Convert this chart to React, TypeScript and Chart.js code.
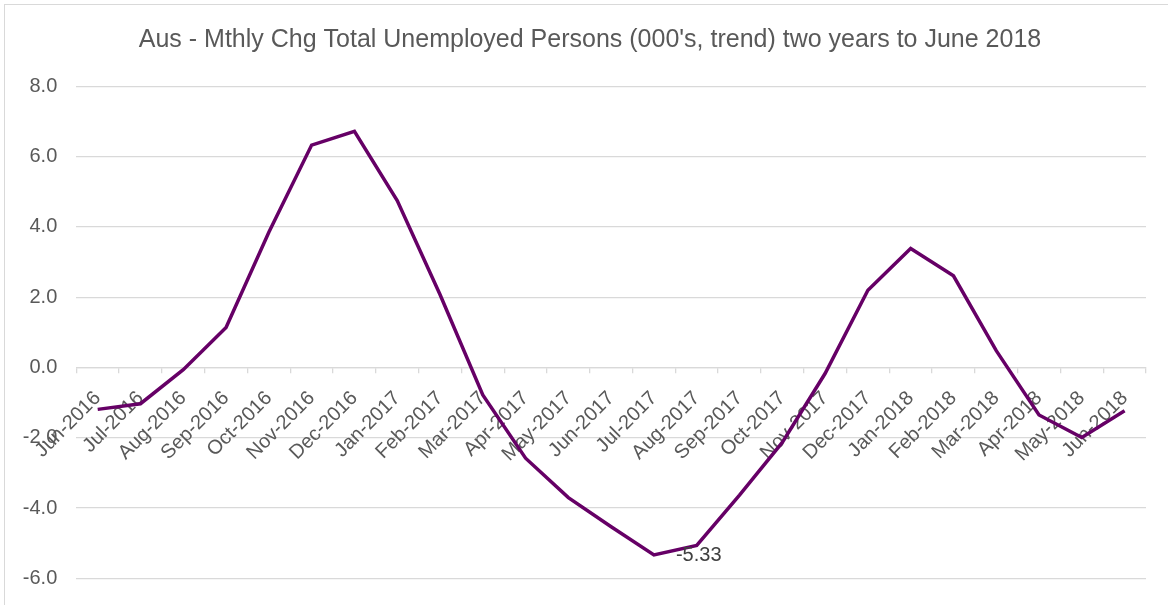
import React, { useEffect, useRef } from "react";
import { Chart, registerables } from "chart.js";

Chart.register(...registerables);

const titleText =
  "Aus - Mthly Chg Total Unemployed Persons (000's, trend) two years to June 2018";

const categories = [
  "Jun-2016", "Jul-2016", "Aug-2016", "Sep-2016", "Oct-2016", "Nov-2016",
  "Dec-2016", "Jan-2017", "Feb-2017", "Mar-2017", "Apr-2017", "May-2017",
  "Jun-2017", "Jul-2017", "Aug-2017", "Sep-2017", "Oct-2017", "Nov-2017",
  "Dec-2017", "Jan-2018", "Feb-2018", "Mar-2018", "Apr-2018", "May-2018",
  "Jun-2018",
];

const unemployedChange = [
  -1.19, -1.03, -0.06, 1.14, 3.85, 6.33,
  6.72, 4.75, 2.08, -0.78, -2.58, -3.7,
  -4.53, -5.33, -5.06, -3.63, -2.13, -0.17,
  2.2, 3.39, 2.61, 0.48, -1.35, -1.99,
  -1.23,
];

const yMin = -6;
const yMax = 8;
const yStep = 2;

// index of the point carrying a data label (the minimum)
const labelledPoints = [13];

const FONT = "'Liberation Sans', Arial, sans-serif";
const GRID = "#d9d9d9";
const TEXT = "#595959";

const titlePlugin = {
  id: "customTitle",
  afterDraw(chart: any) {
    const ctx = chart.ctx;
    ctx.save();
    ctx.font = `25px ${FONT}`;
    ctx.fillStyle = TEXT;
    ctx.textAlign = "center";
    ctx.textBaseline = "middle";
    ctx.fillText(titleText, 590, 40);
    ctx.restore();
  },
};

const dataLabelPlugin = {
  id: "dataLabelPlugin",
  afterDatasetsDraw(chart: any) {
    const meta = chart.getDatasetMeta(0);
    const ctx = chart.ctx;
    ctx.save();
    ctx.font = `20px ${FONT}`;
    ctx.fillStyle = "#404040";
    ctx.textAlign = "left";
    ctx.textBaseline = "middle";
    labelledPoints.forEach((i) => {
      const pt = meta.data[i];
      const v = chart.data.datasets[0].data[i] as number;
      ctx.fillText(v.toFixed(2), pt.x + 22, pt.y + 1);
    });
    ctx.restore();
  },
};

export default function App() {
  const canvasRef = useRef<HTMLCanvasElement | null>(null);

  useEffect(() => {
    if (!canvasRef.current) return;
    Chart.defaults.font.family = FONT;
    const chart = new Chart(canvasRef.current, {
      type: "line",
      data: {
        labels: categories,
        datasets: [
          {
            data: unemployedChange,
            borderColor: "#660066",
            backgroundColor: "#660066",
            borderWidth: 3.5,
            pointRadius: 0,
            tension: 0,
            fill: false,
          },
        ],
      },
      options: {
        animation: false,
        responsive: false,
        maintainAspectRatio: false,
        layout: { padding: { left: 0, right: 22, top: 86.4, bottom: 26.6 } },
        plugins: {
          legend: { display: false },
          tooltip: { enabled: false },
          title: { display: false },
        },
        scales: {
          x: {
            type: "category",
            position: { y: 0 } as any,
            offset: true,
            grid: {
              offset: true,
              drawOnChartArea: false,
              drawTicks: true,
              tickLength: 5,
              color: GRID,
              lineWidth: 1.3,
            },
            border: { display: true, color: GRID, width: 1.3 },
            ticks: {
              autoSkip: false,
              minRotation: 45,
              maxRotation: 45,
              color: TEXT,
              font: { size: 20, family: FONT },
              padding: 14,
            },
          },
          y: {
            min: yMin,
            max: yMax,
            grid: { color: GRID, lineWidth: 1.3, drawTicks: false },
            border: { display: false },
            ticks: {
              stepSize: yStep,
              color: TEXT,
              font: { size: 20, family: FONT },
              padding: 19,
              callback: (v: any) => Number(v).toFixed(1),
            },
            afterFit: (scale: any) => {
              scale.width = 76.3;
              scale.paddingTop = 0;
              scale.paddingBottom = 0;
            },
          },
        },
      },
      plugins: [dataLabelPlugin, titlePlugin],
    });
    return () => chart.destroy();
  }, []);

  return (
    <div
      style={{
        position: "absolute",
        left: 0,
        top: 0,
        width: 1168,
        height: 605,
        overflow: "hidden",
        background: "#ffffff",
      }}
    >
      <div
        style={{
          position: "absolute",
          left: 4,
          top: 4,
          width: 1200,
          height: 700,
          border: `1px solid ${GRID}`,
        }}
      />
      <canvas
        ref={canvasRef}
        width={1168}
        height={605}
        style={{ position: "absolute", left: 0, top: 0, width: 1168, height: 605 }}
      />
    </div>
  );
}
